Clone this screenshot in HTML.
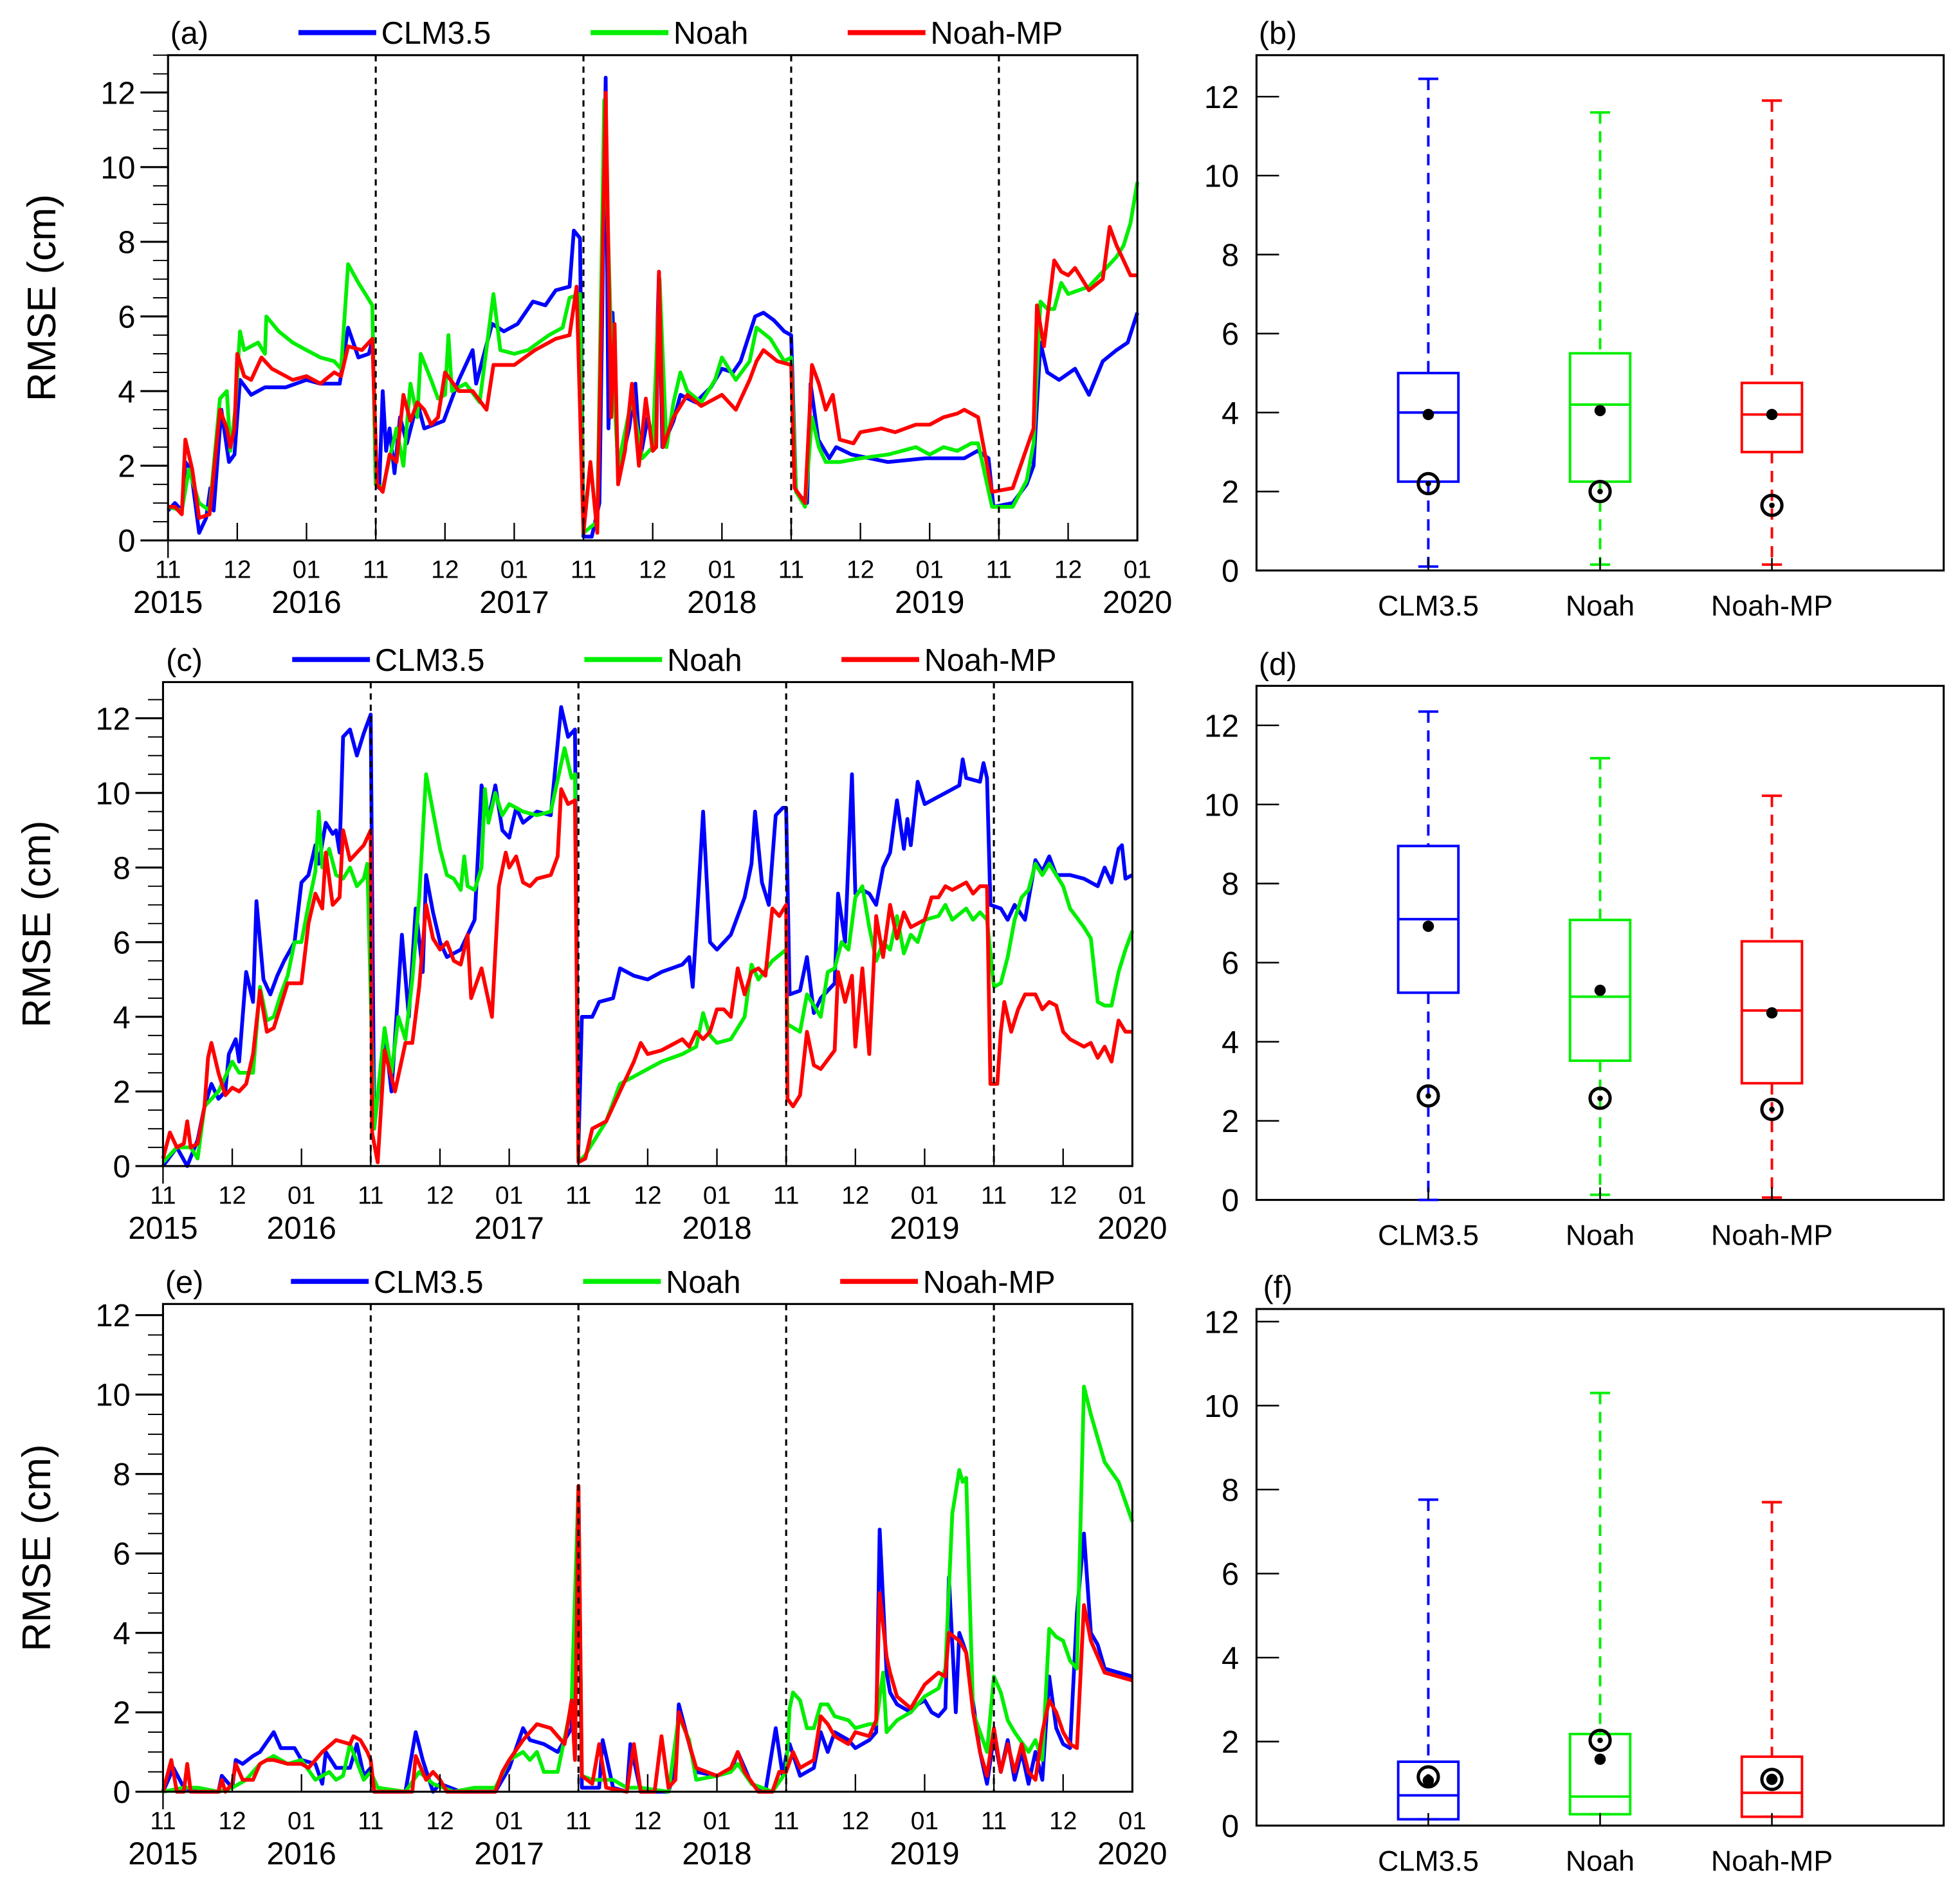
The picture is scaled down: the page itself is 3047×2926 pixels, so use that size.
<!DOCTYPE html>
<html><head><meta charset="utf-8"><style>
html,body{margin:0;padding:0;background:#fff;}
svg{display:block;}
text{font-family:"Liberation Sans",sans-serif;fill:#000;}
</style></head><body>
<svg id="fig" xmlns="http://www.w3.org/2000/svg" width="3047" height="2926" viewBox="0 0 1563 1501" preserveAspectRatio="none"></svg>
<script>
// ---- time axis (months since 2015-11, seasons concatenated) ----
const monthLabels = ["11","12","01","11","12","01","11","12","01","11","12","01","11","12","01"];
const yearLabels = ["2015","2016","2017","2018","2019","2020"];
const yearPos = [0,2,5,8,11,14];
const seasonBreaks = [3,6,9,12];
const seriesNames = ["CLM3.5","Noah","Noah-MP"];
const boxCats = ["CLM3.5","Noah","Noah-MP"];

// ---- panel (a) ----
const aCLM = [[0,0.8],[0.1,1.0],[0.2,0.8],[0.25,2.1],[0.33,1.9],[0.45,0.2],[0.55,0.6],[0.61,1.4],[0.66,0.8],[0.77,3.5],[0.88,2.1],[0.96,2.3],[1.04,4.3],[1.2,3.9],[1.4,4.1],[1.7,4.1],[2.0,4.3],[2.2,4.2],[2.48,4.2],[2.6,5.7],[2.75,4.9],[2.9,5.0],[2.96,5.4],[3.0,1.5],[3.05,1.4],[3.1,4.0],[3.15,2.4],[3.2,3.0],[3.27,1.8],[3.35,3.3],[3.45,2.6],[3.6,3.7],[3.7,3.0],[3.98,3.2],[4.2,4.3],[4.4,5.1],[4.45,4.2],[4.68,5.8],[4.85,5.6],[5.05,5.8],[5.27,6.4],[5.45,6.3],[5.6,6.7],[5.8,6.8],[5.86,8.3],[5.95,8.1],[6.0,0.1],[6.12,0.1],[6.23,1.0],[6.32,12.4],[6.36,3.0],[6.42,6.1],[6.5,1.7],[6.66,3.0],[6.75,4.2],[6.82,2.2],[6.93,3.3],[7.02,2.5],[7.09,7.2],[7.14,2.5],[7.3,3.2],[7.4,3.9],[7.62,3.7],[7.84,4.1],[8.0,4.6],[8.16,4.5],[8.27,4.8],[8.48,6.0],[8.6,6.1],[8.75,5.9],[8.9,5.6],[9.0,5.5],[9.07,1.3],[9.23,1.0],[9.28,4.2],[9.39,2.7],[9.55,2.2],[9.65,2.5],[9.87,2.3],[10.4,2.1],[10.94,2.2],[11.5,2.2],[11.69,2.4],[11.85,2.2],[11.92,0.9],[12.2,1.0],[12.4,1.5],[12.5,2.0],[12.6,5.3],[12.7,4.5],[12.87,4.3],[13.1,4.6],[13.3,3.9],[13.5,4.8],[13.7,5.1],[13.86,5.3],[14.0,6.1]];
const aNoah = [[0,0.9],[0.2,0.8],[0.3,1.9],[0.45,1.0],[0.6,0.8],[0.75,3.8],[0.85,4.0],[0.9,2.4],[0.97,3.5],[1.04,5.6],[1.1,5.1],[1.3,5.3],[1.4,5.0],[1.42,6.0],[1.6,5.6],[1.8,5.3],[2.0,5.1],[2.2,4.9],[2.4,4.8],[2.5,4.6],[2.6,7.4],[2.75,6.9],[2.85,6.6],[2.95,6.3],[3.0,1.5],[3.1,1.4],[3.3,3.0],[3.4,2.0],[3.5,4.2],[3.6,3.3],[3.65,5.0],[3.8,4.3],[3.9,3.8],[4.0,3.9],[4.05,5.5],[4.1,4.0],[4.3,4.2],[4.5,3.7],[4.7,6.6],[4.8,5.1],[5.0,5.0],[5.2,5.1],[5.5,5.5],[5.7,5.7],[5.8,6.5],[5.95,6.6],[6.0,0.2],[6.2,0.5],[6.3,11.8],[6.4,5.3],[6.5,2.0],[6.7,3.8],[6.85,2.2],[7.0,2.5],[7.1,7.0],[7.2,2.5],[7.3,3.7],[7.4,4.5],[7.5,4.0],[7.7,3.7],[7.9,4.3],[8.0,4.9],[8.2,4.3],[8.4,4.8],[8.5,5.7],[8.7,5.4],[8.9,4.8],[9.0,4.9],[9.07,1.3],[9.2,0.9],[9.3,3.3],[9.4,2.5],[9.5,2.1],[9.7,2.1],[10.0,2.2],[10.4,2.3],[10.6,2.4],[10.8,2.5],[11.0,2.3],[11.2,2.5],[11.4,2.4],[11.6,2.6],[11.7,2.6],[11.9,0.9],[12.2,0.9],[12.4,1.6],[12.5,2.6],[12.6,6.4],[12.7,6.2],[12.8,6.2],[12.9,6.9],[13.0,6.6],[13.3,6.8],[13.5,7.2],[13.7,7.6],[13.8,7.9],[13.9,8.5],[14.0,9.6]];
const aNoahMP = [[0,0.9],[0.1,0.9],[0.2,0.7],[0.25,2.7],[0.35,1.9],[0.45,0.6],[0.6,0.7],[0.75,3.5],[0.85,3.0],[0.9,2.5],[0.96,3.0],[1.0,5.0],[1.1,4.4],[1.2,4.3],[1.35,4.9],[1.5,4.6],[1.7,4.4],[1.8,4.3],[2.0,4.4],[2.2,4.2],[2.4,4.5],[2.5,4.4],[2.6,5.2],[2.8,5.1],[2.95,5.4],[3.02,1.5],[3.1,1.3],[3.2,2.3],[3.3,2.1],[3.4,3.9],[3.5,3.2],[3.6,3.7],[3.7,3.5],[3.8,3.1],[3.9,3.3],[4.0,4.5],[4.2,4.0],[4.4,4.0],[4.6,3.5],[4.7,4.7],[5.0,4.7],[5.3,5.1],[5.6,5.4],[5.8,5.5],[5.9,6.8],[6.0,0.2],[6.1,2.1],[6.2,0.2],[6.32,12.0],[6.4,3.3],[6.45,5.8],[6.5,1.5],[6.6,2.4],[6.7,4.2],[6.8,2.0],[6.9,3.8],[7.0,2.4],[7.05,2.5],[7.09,7.2],[7.15,2.5],[7.3,3.3],[7.5,3.9],[7.7,3.6],[7.9,3.8],[8.0,3.9],[8.2,3.5],[8.4,4.3],[8.5,4.8],[8.6,5.1],[8.8,4.8],[9.0,4.7],[9.05,1.4],[9.2,1.0],[9.3,4.7],[9.4,4.2],[9.5,3.5],[9.6,3.9],[9.7,2.7],[9.9,2.6],[10.0,2.9],[10.3,3.0],[10.5,2.9],[10.8,3.1],[11.0,3.1],[11.2,3.3],[11.4,3.4],[11.5,3.5],[11.7,3.3],[11.9,1.3],[12.2,1.4],[12.5,3.0],[12.55,6.3],[12.65,5.2],[12.8,7.5],[12.9,7.2],[13.0,7.1],[13.1,7.3],[13.3,6.7],[13.5,7.0],[13.6,8.4],[13.7,7.9],[13.8,7.5],[13.9,7.1],[14.0,7.1]];

// ---- panel (c) ----
const cCLM = [[0,0.0],[0.2,0.5],[0.35,0.0],[0.5,0.7],[0.6,1.6],[0.7,2.2],[0.8,1.8],[0.9,2.0],[0.95,3.0],[1.05,3.4],[1.1,2.8],[1.2,5.2],[1.3,4.4],[1.35,7.1],[1.45,5.0],[1.55,4.6],[1.65,5.1],[1.75,5.5],[1.9,6.0],[2.0,7.6],[2.1,7.8],[2.2,8.6],[2.25,8.1],[2.35,9.2],[2.45,8.9],[2.5,9.0],[2.55,8.4],[2.6,11.5],[2.7,11.7],[2.8,11.0],[2.9,11.6],[3.0,12.1],[3.05,1.0],[3.2,3.6],[3.3,2.0],[3.45,6.2],[3.55,4.0],[3.65,6.9],[3.75,5.2],[3.8,7.8],[3.9,6.8],[4.0,6.0],[4.1,5.6],[4.3,5.8],[4.5,6.6],[4.6,10.2],[4.7,9.3],[4.8,10.2],[4.9,9.0],[5.0,8.8],[5.1,9.6],[5.2,9.2],[5.4,9.5],[5.6,9.4],[5.75,12.3],[5.85,11.5],[5.95,11.7],[6.0,0.5],[6.05,4.0],[6.2,4.0],[6.3,4.4],[6.5,4.5],[6.6,5.3],[6.8,5.1],[7.0,5.0],[7.2,5.2],[7.5,5.4],[7.6,5.6],[7.65,4.8],[7.7,6.3],[7.8,9.5],[7.9,6.0],[8.0,5.8],[8.2,6.2],[8.4,7.2],[8.5,8.1],[8.55,9.5],[8.65,7.6],[8.75,7.0],[8.85,9.4],[8.95,9.6],[9.0,9.6],[9.05,4.6],[9.2,4.7],[9.3,5.6],[9.4,4.1],[9.5,4.5],[9.7,4.9],[9.75,7.3],[9.85,6.0],[9.95,10.5],[10.0,7.3],[10.1,7.4],[10.2,7.3],[10.3,7.0],[10.4,8.0],[10.5,8.4],[10.6,9.8],[10.7,8.5],[10.75,9.3],[10.8,8.6],[10.9,10.3],[11.0,9.7],[11.1,9.8],[11.3,10.0],[11.5,10.2],[11.55,10.9],[11.6,10.4],[11.8,10.3],[11.85,10.8],[11.9,10.4],[11.95,7.0],[12.1,6.9],[12.2,6.6],[12.3,7.0],[12.45,6.6],[12.6,8.2],[12.7,7.9],[12.8,8.3],[12.9,7.8],[13.1,7.8],[13.3,7.7],[13.5,7.5],[13.6,8.0],[13.7,7.6],[13.8,8.5],[13.85,8.6],[13.9,7.7],[14.0,7.8]];
const cNoah = [[0,0.1],[0.2,0.5],[0.4,0.5],[0.5,0.2],[0.6,1.6],[0.8,2.0],[1.0,2.8],[1.1,2.5],[1.3,2.5],[1.4,4.8],[1.5,3.9],[1.6,4.0],[1.7,4.6],[1.8,5.1],[1.9,6.0],[2.0,6.0],[2.1,7.0],[2.2,7.9],[2.25,9.5],[2.3,8.0],[2.4,8.5],[2.5,7.8],[2.6,7.7],[2.7,8.0],[2.8,7.5],[2.9,7.7],[2.95,8.1],[3.05,1.0],[3.2,3.7],[3.3,2.5],[3.4,4.0],[3.5,3.4],[3.6,5.0],[3.7,7.2],[3.8,10.5],[3.9,9.5],[4.0,8.5],[4.1,7.8],[4.2,7.7],[4.3,7.4],[4.35,8.3],[4.4,7.5],[4.5,7.4],[4.6,8.0],[4.65,10.1],[4.7,9.2],[4.8,10.0],[4.9,9.4],[5.0,9.7],[5.2,9.5],[5.4,9.4],[5.6,9.5],[5.8,11.2],[5.9,10.4],[5.95,10.5],[6.0,0.1],[6.1,0.3],[6.2,0.6],[6.4,1.2],[6.6,2.2],[6.8,2.4],[7.0,2.6],[7.2,2.8],[7.5,3.0],[7.7,3.2],[7.8,4.1],[7.9,3.5],[8.0,3.3],[8.2,3.4],[8.4,4.0],[8.5,5.4],[8.6,5.0],[8.8,5.5],[9.0,5.8],[9.02,3.8],[9.2,3.6],[9.3,4.6],[9.4,4.3],[9.5,4.0],[9.6,5.2],[9.7,5.3],[9.8,6.0],[9.9,5.8],[10.0,7.2],[10.1,7.5],[10.2,6.4],[10.3,5.5],[10.4,6.0],[10.5,5.8],[10.6,6.7],[10.7,5.7],[10.8,6.2],[10.9,6.0],[11.0,6.6],[11.2,6.7],[11.3,7.0],[11.4,6.6],[11.6,6.9],[11.7,6.6],[11.8,6.8],[11.9,6.6],[12.0,4.8],[12.1,4.9],[12.2,5.6],[12.3,6.6],[12.4,7.2],[12.5,7.4],[12.6,8.1],[12.7,7.8],[12.8,8.1],[12.9,7.8],[13.0,7.5],[13.1,6.9],[13.3,6.4],[13.4,6.1],[13.5,4.4],[13.6,4.3],[13.7,4.3],[13.8,5.2],[13.9,5.8],[14.0,6.3]];
const cNoahMP = [[0,0.2],[0.1,0.9],[0.2,0.5],[0.3,0.6],[0.35,1.2],[0.4,0.5],[0.5,0.6],[0.6,1.6],[0.65,2.9],[0.7,3.3],[0.8,2.5],[0.9,1.9],[1.0,2.1],[1.1,2.0],[1.2,2.2],[1.3,3.0],[1.4,4.7],[1.5,3.6],[1.6,3.7],[1.7,4.3],[1.8,4.9],[2.0,4.9],[2.1,6.5],[2.2,7.3],[2.3,6.9],[2.35,8.4],[2.45,7.0],[2.55,7.2],[2.6,9.0],[2.7,8.2],[2.8,8.4],[2.9,8.6],[3.0,9.0],[3.02,0.9],[3.1,0.1],[3.2,3.1],[3.35,2.0],[3.5,3.3],[3.6,3.3],[3.7,4.8],[3.8,7.0],[3.9,6.1],[4.0,5.8],[4.1,6.0],[4.2,5.5],[4.3,5.4],[4.4,6.2],[4.45,4.5],[4.6,5.3],[4.75,4.0],[4.85,7.5],[4.95,8.4],[5.0,8.0],[5.1,8.3],[5.2,7.6],[5.3,7.5],[5.4,7.7],[5.6,7.8],[5.7,8.3],[5.75,10.1],[5.85,9.7],[5.95,9.8],[6.0,0.1],[6.1,0.2],[6.2,1.0],[6.4,1.2],[6.6,2.0],[6.8,2.8],[6.9,3.3],[7.0,3.0],[7.2,3.1],[7.4,3.3],[7.5,3.4],[7.6,3.2],[7.7,3.6],[7.8,3.4],[7.9,3.6],[8.0,4.2],[8.1,4.2],[8.2,4.0],[8.3,5.3],[8.4,4.6],[8.5,5.2],[8.6,5.3],[8.7,5.1],[8.8,6.9],[8.9,6.7],[9.0,7.0],[9.02,1.8],[9.1,1.6],[9.2,1.9],[9.3,3.6],[9.4,2.7],[9.5,2.6],[9.7,3.1],[9.75,5.2],[9.85,4.4],[9.95,5.1],[10.0,3.2],[10.1,5.3],[10.2,3.0],[10.3,6.7],[10.4,5.6],[10.5,7.0],[10.6,6.1],[10.7,6.8],[10.8,6.4],[11.0,6.6],[11.1,7.2],[11.2,7.2],[11.3,7.5],[11.4,7.4],[11.5,7.5],[11.6,7.6],[11.7,7.3],[11.8,7.5],[11.9,7.5],[11.95,2.2],[12.05,2.2],[12.1,3.6],[12.15,4.4],[12.25,3.6],[12.35,4.2],[12.45,4.6],[12.6,4.6],[12.7,4.2],[12.8,4.4],[12.9,4.3],[13.0,3.6],[13.1,3.4],[13.2,3.3],[13.3,3.2],[13.4,3.3],[13.5,2.9],[13.6,3.2],[13.7,2.8],[13.8,3.9],[13.9,3.6],[14.0,3.6]];

// ---- panel (e) ----
const eCLM = [[0,0],[0.15,0.6],[0.3,0.1],[0.5,0.0],[0.8,0.0],[0.85,0.4],[1.0,0.1],[1.05,0.8],[1.15,0.7],[1.3,0.9],[1.4,1.0],[1.6,1.5],[1.7,1.1],[1.9,1.1],[2.0,0.8],[2.2,0.7],[2.3,0.2],[2.35,1.0],[2.5,0.6],[2.7,0.6],[2.8,1.2],[2.9,0.4],[3.0,0.6],[3.05,0],[3.5,0],[3.65,1.5],[3.75,0.8],[3.9,0.0],[4.0,0.2],[4.3,0],[4.8,0],[5.0,0.6],[5.2,1.6],[5.3,1.3],[5.5,1.2],[5.7,1.0],[5.9,1.6],[6.0,7.7],[6.05,0.1],[6.3,0.1],[6.35,1.3],[6.5,0.1],[6.7,0.0],[6.75,1.2],[6.9,0.0],[7.3,0.0],[7.4,0.6],[7.45,2.2],[7.6,1.2],[7.7,0.5],[8.0,0.4],[8.2,0.5],[8.3,1.0],[8.5,0.2],[8.7,0.0],[8.85,1.6],[8.95,0.4],[9.0,0.9],[9.05,1.2],[9.2,0.4],[9.4,0.6],[9.5,1.5],[9.6,1.0],[9.7,1.5],[9.9,1.3],[10.0,1.1],[10.2,1.3],[10.3,1.5],[10.35,6.6],[10.45,3.0],[10.5,2.5],[10.6,2.2],[10.8,2.0],[10.9,2.2],[11.0,2.3],[11.1,2.0],[11.2,1.9],[11.3,2.1],[11.35,5.4],[11.45,2.0],[11.5,4.0],[11.6,3.5],[11.8,1.0],[11.9,0.2],[12.0,1.4],[12.1,0.5],[12.2,1.3],[12.3,0.3],[12.4,1.0],[12.5,0.2],[12.6,1.0],[12.7,0.3],[12.8,2.9],[12.9,1.6],[13.0,1.2],[13.1,1.1],[13.2,4.5],[13.3,6.5],[13.4,4.0],[13.5,3.7],[13.6,3.1],[13.8,3.0],[14.0,2.9]];
const eNoah = [[0,0],[0.3,0.1],[0.5,0.1],[0.8,0.0],[1.0,0.1],[1.2,0.3],[1.4,0.7],[1.6,0.9],[1.8,0.7],[2.0,0.8],[2.2,0.3],[2.4,0.5],[2.5,0.3],[2.6,0.4],[2.7,1.2],[2.9,0.3],[3.0,0.5],[3.1,0.1],[3.5,0],[3.7,0.5],[3.9,0.2],[4.2,0.0],[4.5,0.1],[4.8,0.1],[5.0,0.8],[5.2,1.0],[5.3,0.8],[5.4,1.0],[5.5,0.5],[5.7,0.5],[5.9,2.2],[6.0,7.7],[6.05,0.4],[6.2,0.3],[6.5,0.3],[6.7,0.1],[6.9,0.1],[7.3,0.0],[7.45,1.9],[7.6,1.3],[7.7,0.3],[8.0,0.4],[8.2,0.5],[8.3,0.7],[8.5,0.2],[8.8,0.0],[9.0,0.5],[9.05,2.1],[9.1,2.5],[9.2,2.3],[9.3,1.6],[9.4,1.6],[9.5,2.2],[9.6,2.2],[9.7,1.9],[9.9,1.8],[10.0,1.6],[10.2,1.7],[10.3,1.7],[10.4,3.0],[10.45,1.5],[10.6,1.8],[10.8,2.0],[11.0,2.4],[11.2,2.6],[11.3,3.1],[11.4,7.0],[11.5,8.1],[11.55,7.8],[11.6,7.9],[11.7,2.0],[11.9,1.0],[12.0,2.9],[12.1,2.5],[12.2,1.8],[12.3,1.5],[12.5,1.0],[12.6,1.3],[12.7,0.8],[12.8,4.1],[12.9,3.9],[13.0,3.8],[13.1,3.3],[13.2,3.1],[13.3,10.2],[13.4,9.5],[13.6,8.3],[13.8,7.8],[14.0,6.8]];
const eNoahMP = [[0,0],[0.12,0.8],[0.2,0.0],[0.3,0.0],[0.35,0.7],[0.4,0.0],[0.8,0.0],[0.85,0.3],[0.9,0.0],[1.0,0.2],[1.05,0.7],[1.15,0.3],[1.3,0.3],[1.4,0.7],[1.5,0.8],[1.6,0.8],[1.8,0.7],[2.0,0.7],[2.1,0.6],[2.3,1.0],[2.5,1.3],[2.7,1.2],[2.75,1.4],[2.85,1.3],[2.95,1.0],[3.0,0.8],[3.05,0],[3.6,0.0],[3.65,0.9],[3.8,0.3],[3.9,0.5],[4.0,0.3],[4.1,0.0],[4.8,0.0],[4.9,0.5],[5.0,0.8],[5.2,1.3],[5.4,1.7],[5.6,1.6],[5.8,1.2],[5.9,2.3],[5.95,0.8],[6.0,7.7],[6.05,0.4],[6.2,0.2],[6.3,1.2],[6.4,0.1],[6.7,0.0],[6.8,1.2],[6.9,0.0],[7.1,0.0],[7.2,1.4],[7.3,0.1],[7.4,0.3],[7.45,2.0],[7.55,1.5],[7.7,0.6],[8.0,0.4],[8.2,0.6],[8.3,1.0],[8.4,0.5],[8.6,0.0],[8.8,0.0],[8.9,0.5],[9.0,0.5],[9.1,1.0],[9.2,0.6],[9.4,0.8],[9.5,1.9],[9.6,1.7],[9.7,1.4],[9.9,1.2],[10.0,1.5],[10.2,1.4],[10.3,1.8],[10.35,5.0],[10.45,3.4],[10.5,3.0],[10.6,2.4],[10.8,2.1],[11.0,2.7],[11.2,3.0],[11.3,2.9],[11.35,4.0],[11.5,3.8],[11.6,3.5],[11.7,2.0],[11.8,1.0],[11.9,0.4],[12.0,1.6],[12.1,0.5],[12.2,1.2],[12.3,0.5],[12.4,1.2],[12.5,0.5],[12.6,0.3],[12.7,1.5],[12.8,2.3],[12.9,2.0],[13.0,1.5],[13.1,1.2],[13.2,1.1],[13.3,4.7],[13.4,3.8],[13.5,3.4],[13.6,3.0],[13.8,2.9],[14.0,2.8]];

// ---- box plot stats: [whiskerLow, q1, median, q3, whiskerHigh] ----
const bStats = [[0.1,2.25,4.0,5.0,12.45],[0.15,2.25,4.2,5.5,11.6],[0.15,3.0,3.95,4.75,11.9]];
const bMeans = [3.95,4.05,3.95];
const bCircles = [2.2,2.0,1.65];
const dStats = [[0.0,5.24,7.1,8.95,12.35],[0.13,3.52,5.14,7.08,11.17],[0.06,2.95,4.79,6.54,10.22]];
const dMeans = [6.92,5.3,4.73];
const dCircles = [2.63,2.57,2.29];
const fStats = [[0.15,0.15,0.72,1.52,7.76],[0.27,0.27,0.69,2.18,10.3],[0.21,0.21,0.78,1.64,7.7]];
const fMeans = [1.07,1.58,1.1];
const fCircles = [1.16,2.03,1.1];

const colors = ["#0000ff","#00ee00","#ff0000"];
const NS = "http://www.w3.org/2000/svg";
const svg = document.getElementById("fig");
function mk(tag, attrs, parent){
  const e = document.createElementNS(NS, tag);
  for (const k in attrs) e.setAttribute(k, attrs[k]);
  (parent||svg).appendChild(e);
  return e;
}
function txt(s, x, y, size, anchor, parent){
  const t = mk("text", {x:x, y:y, "font-size":size, "text-anchor":anchor||"middle"}, parent);
  t.textContent = s;
  return t;
}

function linePanel(p){
  const g = mk("g", {});
  
  
  const xs = t => p.L + (p.R - p.L) * t / 14;
  const ys = v => p.B - (p.B - p.T) * v / p.ymax;
  // series
  p.series.forEach((s, i) => {
    const d = s.map((pt, j) => (j ? "L" : "M") + xs(pt[0]).toFixed(1) + "," + ys(pt[1]).toFixed(1)).join(" ");
    const path = mk("path", {d:d, fill:"none", stroke:colors[i], "stroke-width":3, "stroke-linejoin":"round"}, g);
    
    
  });
  // season breaks
  seasonBreaks.forEach(b => {
    const l = mk("line", {x1:xs(b), x2:xs(b), y1:p.T, y2:p.B, stroke:"#000", "stroke-width":1.6, "stroke-dasharray":"5,4"}, g);
    
    
  });
  // frame
  const fr = mk("rect", {x:p.L, y:p.T, width:p.R-p.L, height:p.B-p.T, fill:"none", stroke:"#000", "stroke-width":1.6}, g);
  
  
  mk("line", {x1:p.L, x2:p.L, y1:p.B, y2:p.B+14, stroke:"#000", "stroke-width":1.2}, g);
  // y ticks
  for (let v = 0; v <= p.ymax + 0.001; v += 0.5) {
    const major = Math.abs(v % 2) < 0.001;
    const y = ys(v);
    mk("line", {x1:p.L - (major ? 22 : 12), x2:p.L, y1:y, y2:y, stroke:"#000", "stroke-width":major?1.6:1}, g);
    if (major) {
      const t = txt(String(v), p.L - 26, y + 9, 25, "end", g);
      
      
    }
  }
  // x ticks
  monthLabels.forEach((m, i) => {
    const x = xs(i);
    mk("line", {x1:x, x2:x, y1:p.B, y2:p.B - 14, stroke:"#000", "stroke-width":1.2}, g);
    const t = txt(m, x, p.B + 30, 20, "middle", g);
    
    
  });
  yearLabels.forEach((yl, i) => {
    const t = txt(yl, xs(yearPos[i]), p.B + 58, 25, "middle", g);
    
    
  });
  const yt = txt("RMSE (cm)", 0, 0, 32, "middle", g);
  yt.setAttribute("transform", "translate(" + (p.L - 90) + "," + ((p.T + p.B) / 2) + ") rotate(-90)");
  
  
  const lb = txt(p.label, p.L + 17, p.T - 9, 25, "middle", g);
  
  
  // legend
  const lg = mk("g", {}, g);
  
  
  p.legendX.forEach((lx, i) => {
    const ly = p.T - 18;
    const e = mk("g", {}, lg);
    
    
    mk("line", {x1:lx, x2:lx + 62, y1:ly, y2:ly, stroke:colors[i], "stroke-width":4}, e);
    txt(seriesNames[i], lx + 66, ly + 9, 25, "start", e);
  });
}

function boxPanel(p){
  const g = mk("g", {});
  
  
  const xs = c => p.L + (p.R - p.L) * c / 4;
  const ys = v => p.B - (p.B - p.T) * v / p.ymax;
  const fr = mk("rect", {x:p.L, y:p.T, width:p.R-p.L, height:p.B-p.T, fill:"none", stroke:"#000", "stroke-width":1.6}, g);
  
  
  for (let v = 0; v <= p.ymax; v += 2) {
    const y = ys(v);
    mk("line", {x1:p.L, x2:p.L + 18, y1:y, y2:y, stroke:"#000", "stroke-width":1.3}, g);
    const t = txt(String(v), p.L - 14, y + 9, 25, "end", g);
    
    
  }
  p.stats.forEach((s, i) => {
    const cx = xs(i + 1), c = colors[i], hw = 24;
    const bg = mk("g", {}, g);
    
    
    mk("line", {x1:cx, x2:cx, y1:ys(s[4]), y2:ys(s[3]), stroke:c, "stroke-width":2, "stroke-dasharray":"9,6"}, bg);
    mk("line", {x1:cx, x2:cx, y1:ys(s[1]), y2:ys(s[0]), stroke:c, "stroke-width":2, "stroke-dasharray":"9,6"}, bg);
    mk("line", {x1:cx-8, x2:cx+8, y1:ys(s[4]), y2:ys(s[4]), stroke:c, "stroke-width":2}, bg);
    mk("line", {x1:cx-8, x2:cx+8, y1:ys(s[0]), y2:ys(s[0]), stroke:c, "stroke-width":2}, bg);
    mk("rect", {x:cx-hw, y:ys(s[3]), width:2*hw, height:ys(s[1])-ys(s[3]), fill:"none", stroke:c, "stroke-width":2}, bg);
    mk("line", {x1:cx-hw, x2:cx+hw, y1:ys(s[2]), y2:ys(s[2]), stroke:c, "stroke-width":2}, bg);
    mk("line", {x1:cx, x2:cx, y1:p.B, y2:p.B-10, stroke:"#000", "stroke-width":1.3}, bg);
    const m = mk("circle", {cx:cx, cy:ys(p.means[i]), r:4.5, fill:"#000"}, bg);
    
    
    const ci = mk("circle", {cx:cx, cy:ys(p.circles[i]), r:8, fill:"none", stroke:"#000", "stroke-width":2.6}, bg);
    
    
    mk("circle", {cx:cx, cy:ys(p.circles[i]), r:2.2, fill:"#000"}, bg);
    const t = txt(boxCats[i], cx, p.B + 36, 23, "middle", g);
    
    
  });
  const lb = txt(p.label, p.L + 17, p.T - 9, 25, "middle", g);
  
  
}

linePanel({name:"panel-a", label:"(a)", L:134, R:907, T:44, B:431, ymax:13.0, series:[aCLM,aNoah,aNoahMP], legendX:[238,471,676]});
linePanel({name:"panel-c", label:"(c)", L:130, R:903, T:544, B:930, ymax:12.97, series:[cCLM,cNoah,cNoahMP], legendX:[233,466,671]});
linePanel({name:"panel-e", label:"(e)", L:130, R:903, T:1040, B:1429, ymax:12.28, series:[eCLM,eNoah,eNoahMP], legendX:[232,465,670]});
boxPanel({name:"panel-b", label:"(b)", L:1002, R:1550, T:44, B:455, ymax:13.05, stats:bStats, means:bMeans, circles:bCircles});
boxPanel({name:"panel-d", label:"(d)", L:1002, R:1550, T:547, B:957, ymax:13.0, stats:dStats, means:dMeans, circles:dCircles});
boxPanel({name:"panel-f", label:"(f)", L:1002, R:1550, T:1044, B:1456, ymax:12.3, stats:fStats, means:fMeans, circles:fCircles});
</script>
</body></html>
